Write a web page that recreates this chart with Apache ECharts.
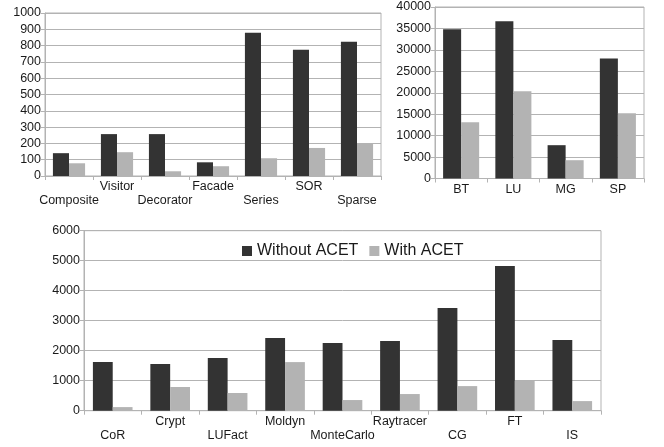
<!DOCTYPE html>
<html>
<head>
<meta charset="utf-8">
<script src="https://cdn.jsdelivr.net/npm/echarts@6/dist/echarts.min.js"></script>
<style>
  html, body { margin: 0; padding: 0; background: #fff; }
  #chart { width: 664px; height: 447px; }
</style>
</head>
<body>
<div id="chart"></div>
<script>
const patternCats = ["Composite", "Visitor", "Decorator", "Facade", "Series", "SOR", "Sparse"];
const patternWithout = [140, 257, 257, 84, 879, 774, 823];
const patternWith = [78, 146, 29, 60, 109, 172, 197];

const npbCats = ["BT", "LU", "MG", "SP"];
const npbWithout = [34800, 36700, 7770, 28000];
const npbWith = [13100, 20350, 4270, 15200];

const benchCats = ["CoR", "Crypt", "LUFact", "Moldyn", "MonteCarlo", "Raytracer", "CG", "FT", "IS"];
const benchWithout = [1620, 1555, 1755, 2420, 2255, 2320, 3420, 4820, 2355];
const benchWith = [120, 790, 590, 1620, 355, 555, 820, 1010, 320];

const DARK = "#333333";
const LIGHT = "#b3b3b3";
const LINE = "#b3b3b3";
const FONT = "Liberation Sans";
const TEXT = "#1a1a1a";

// alternate the category labels on two rows
function twoRows(value, index) {
    return index % 2 === 0 ? "\n" + value : value;
}

function xAxis(gridIndex, data, staggered) {
    return {
        type: "category",
        gridIndex: gridIndex,
        data: data,
        axisLine: { lineStyle: { color: LINE } },
        axisTick: { show: true, length: 4, lineStyle: { color: LINE } },
        axisLabel: {
            interval: 0,
            margin: 4,
            color: TEXT,
            fontFamily: FONT,
            fontSize: 12.5,
            lineHeight: 14,
            formatter: staggered ? twoRows : null
        }
    };
}

function yAxis(gridIndex, max, interval) {
    return {
        type: "value",
        gridIndex: gridIndex,
        min: 0,
        max: max,
        interval: interval,
        axisLine: { show: true, lineStyle: { color: LINE } },
        axisTick: { show: true, length: 4, lineStyle: { color: LINE } },
        splitLine: { lineStyle: { color: LINE } },
        axisLabel: {
            margin: 4,
            color: TEXT,
            fontFamily: FONT,
            fontSize: 12.5,
            formatter: v => String(v)
        }
    };
}

function bars(name, idx, data, color, gap) {
    return {
        name: name,
        type: "bar",
        xAxisIndex: idx,
        yAxisIndex: idx,
        data: data,
        barGap: "0%",
        barCategoryGap: gap,
        itemStyle: { color: color },
        animation: false
    };
}

const chart = echarts.init(document.getElementById("chart"));

chart.setOption({
    animation: false,
    textStyle: { fontFamily: FONT },
    legend: {
        data: ["Without ACET", "With ACET"],
        left: 237,
        top: 238,
        itemWidth: 10,
        itemHeight: 10,
        itemGap: 11,
        icon: "rect",
        textStyle: { fontSize: 16, color: TEXT, fontFamily: FONT }
    },
    grid: [
        { left: 45, top: 13, width: 336, height: 163, show: true, borderColor: LINE, borderWidth: 1 },
        { left: 435, top: 7, width: 209, height: 171.5, show: true, borderColor: LINE, borderWidth: 1 },
        { left: 84, top: 230.7, width: 517, height: 180, show: true, borderColor: LINE, borderWidth: 1 }
    ],
    xAxis: [
        xAxis(0, patternCats, true),
        xAxis(1, npbCats, false),
        xAxis(2, benchCats, true)
    ],
    yAxis: [
        yAxis(0, 1000, 100),
        yAxis(1, 40000, 5000),
        yAxis(2, 6000, 1000)
    ],
    series: [
        bars("Without ACET", 0, patternWithout, DARK, "33%"),
        bars("With ACET", 0, patternWith, LIGHT, "33%"),
        bars("Without ACET", 1, npbWithout, DARK, "31%"),
        bars("With ACET", 1, npbWith, LIGHT, "31%"),
        bars("Without ACET", 2, benchWithout, DARK, "31%"),
        bars("With ACET", 2, benchWith, LIGHT, "31%")
    ]
});
</script>
</body>
</html>
